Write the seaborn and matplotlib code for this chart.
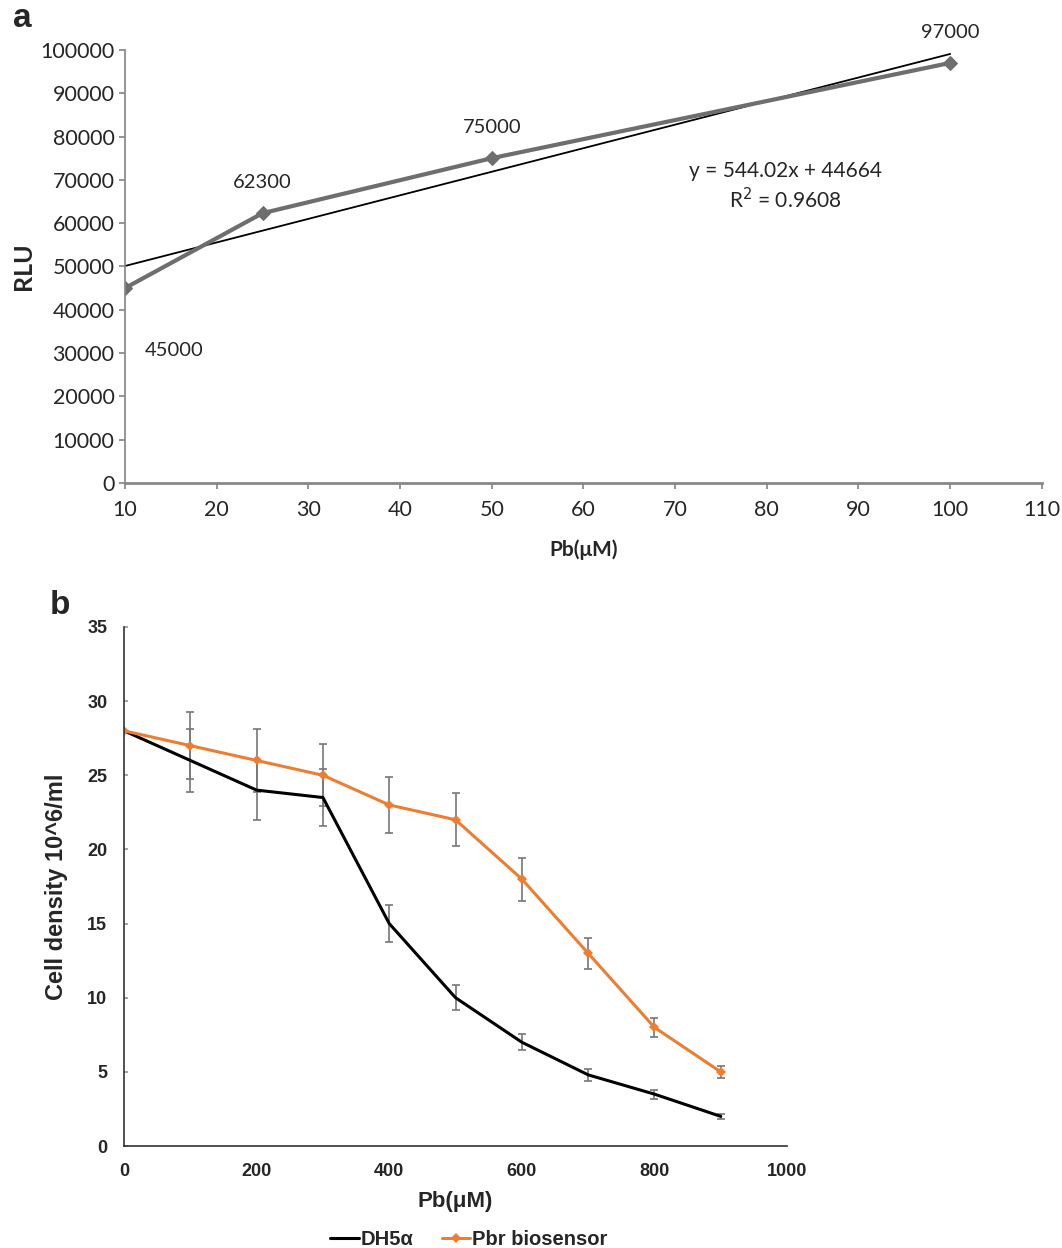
import pandas as pd
import matplotlib.pyplot as plt
import seaborn as sns

# ---- data ----
pb_a = [10, 25, 50, 100]
rlu = [45000, 62300, 75000, 97000]

pb_b = [0, 100, 200, 300, 400, 500, 600, 700, 800, 900]
dh5a = [28, 26, 24, 23.5, 15, 10, 7, 4.8, 3.5, 2]
dh5a_err = [0, 2.15, 2.0, 1.95, 1.25, 0.85, 0.55, 0.4, 0.3, 0.15]
pbr = [28, 27, 26, 25, 23, 22, 18, 13, 8, 5]
pbr_err = [0, 2.25, 2.15, 2.1, 1.9, 1.8, 1.45, 1.05, 0.65, 0.4]

sns.set_theme(style="white")
plt.rcParams['font.family'] = ['Lato', 'DejaVu Sans']

fig = plt.figure(figsize=(10.62, 12.48), dpi=100)

# ----------------------------------------------------
# Panel a: RLU vs Pb with linear trendline
# ----------------------------------------------------
ax1 = fig.add_axes([0.1177, 0.613, 0.8633, 0.347])
df_a = pd.DataFrame({'Pb': pb_a, 'RLU': rlu})

sns.regplot(data=df_a, x='Pb', y='RLU', ax=ax1, ci=None, scatter=False,
            truncate=True, line_kws={'color': 'black', 'lw': 1.3})
sns.lineplot(data=df_a, x='Pb', y='RLU', ax=ax1, color='#6e6e6e', lw=3,
             marker='D', markersize=7, markeredgecolor='#6e6e6e')

ax1.set_xlim(10, 110)
ax1.set_ylim(0, 100000)
ax1.set_xticks(range(10, 111, 10))
ax1.set_yticks(range(0, 100001, 10000))
ax1.tick_params(axis='both', labelsize=15.5, length=4, color='#888888',
                direction='out', left=True, bottom=True)
ax1.tick_params(axis='x', pad=8)
for s in ['top', 'right']:
    ax1.spines[s].set_visible(False)
for s in ['left', 'bottom']:
    ax1.spines[s].set_color('#888888')
ax1.spines['bottom'].set_linewidth(2)
ax1.set_xlabel('Pb(μM)', fontsize=15, fontweight='bold', labelpad=14)
ax1.set_ylabel('RLU', fontsize=18, fontweight='bold', labelpad=4)

lbl_off = [(14, -45), (0, 22), (0, 22), (0, 22)]
for x, y, (dx, dy) in zip(pb_a, rlu, lbl_off):
    ax1.annotate(str(y), (x, y), xytext=(dx, dy), textcoords='offset points',
                 fontsize=14.5, ha='left' if dx else 'center', va='center')
ax1.text(82, 68500, 'y = 544.02x + 44664\nR$^2$ = 0.9608', fontsize=15,
         ha='center', va='center', linespacing=1.3)

fig.text(0.012, 0.985, 'a', fontsize=24, fontweight='bold',
         family='Liberation Sans', va='center')

# ----------------------------------------------------
# Panel b: cell density vs Pb
# ----------------------------------------------------
ax2 = fig.add_axes([0.1168, 0.0817, 0.6243, 0.4159])

ax2.errorbar(pb_b, dh5a, yerr=dh5a_err, fmt='none', ecolor='#777777',
             elinewidth=1.2, capsize=3, capthick=1.2)
ax2.errorbar(pb_b, pbr, yerr=pbr_err, fmt='none', ecolor='#777777',
             elinewidth=1.2, capsize=3, capthick=1.2)
sns.lineplot(x=pb_b, y=dh5a, color='black', lw=2.2, label='DH5α', ax=ax2)
sns.lineplot(x=pb_b, y=pbr, color='#ed7d31', lw=2.2, marker='D',
             markersize=5, markeredgewidth=0, label='Pbr biosensor', ax=ax2)

ax2.set_xlim(0, 1000)
ax2.set_ylim(0, 35)
ax2.set_xticks(range(0, 1001, 200))
ax2.set_yticks(range(0, 36, 5))
for s in ['top', 'right']:
    ax2.spines[s].set_visible(False)
for s in ['left', 'bottom']:
    ax2.spines[s].set_color('#333333')
    ax2.spines[s].set_linewidth(1.2)
ax2.tick_params(axis='both', length=0, labelsize=13, pad=12)
ax2.tick_params(axis='y', left=True, length=3, direction='in', color='#999999')
for t in ax2.get_xticklabels() + ax2.get_yticklabels():
    t.set_family('Liberation Sans')
    t.set_fontweight('bold')
ax2.set_xlabel('Pb(μM)', fontsize=16, fontweight='bold',
               family='Liberation Sans', labelpad=8)
ax2.set_ylabel('Cell density 10^6/ml', fontsize=17, fontweight='bold',
               family='Liberation Sans', labelpad=14)

leg = ax2.legend(loc='center', bbox_to_anchor=(0.52, -0.18), ncol=2,
                 frameon=False, handlelength=1.4, handletextpad=0.1,
                 columnspacing=1.4,
                 prop={'family': 'Liberation Sans', 'weight': 'bold', 'size': 14.5})

fig.text(0.047, 0.515, 'b', fontsize=24, fontweight='bold',
         family='Liberation Sans', va='center')

plt.savefig('out.png', dpi=100)
plt.close()
